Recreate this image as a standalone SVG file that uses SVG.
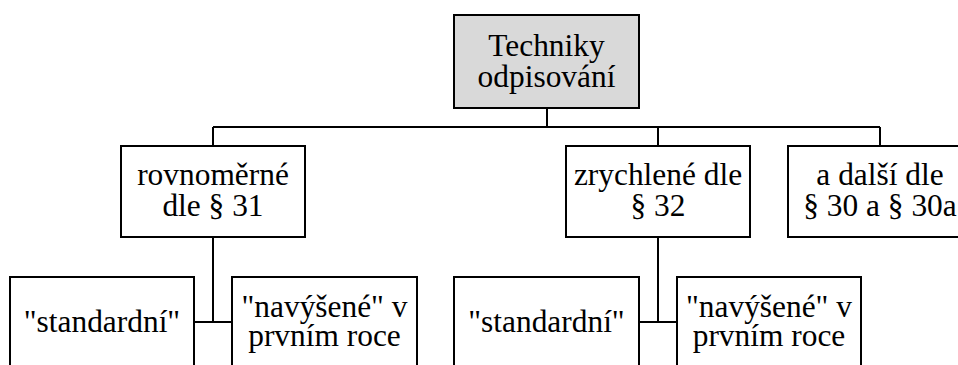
<svg xmlns="http://www.w3.org/2000/svg" width="958" height="365" viewBox="0 0 958 365">
<style>
.box{fill:#ffffff;stroke:#000000;stroke-width:2}
.root{fill:#d9d9d9;stroke:#000000;stroke-width:2}
.t{font-family:"Liberation Serif","Times New Roman",Tinos,serif;font-size:31.4px;fill:#000000;text-anchor:middle}
.c{fill:none;stroke:#000000;stroke-width:2}
</style>
<rect width="958" height="365" fill="#ffffff"/>
<g id="connectors">
<path class="c" d="M547,108 V127 M213,127 H880 M213,127 V146 M658,127 V146 M880,127 V146 M213,237 V322 M194,322 H232 M658,237 V322 M639,322 H677"/>
</g>
<g id="root">
<rect class="root" x="454" y="15" width="185" height="93"/>
<text class="t" x="546.5" y="56">Techniky</text>
<text class="t" x="546.5" y="86.5">odpisování</text>
</g>
<g id="rovnomerne">
<rect class="box" x="121" y="146" width="184" height="91"/>
<text class="t" x="213" y="185">rovnoměrné</text>
<text class="t" x="213" y="216">dle § 31</text>
</g>
<g id="zrychlene">
<rect class="box" x="566" y="146" width="184" height="91"/>
<text class="t" x="658" y="185">zrychlené dle</text>
<text class="t" x="658" y="216">§ 32</text>
</g>
<g id="dalsi">
<rect class="box" x="788" y="146" width="184" height="91"/>
<text class="t" x="880" y="185">a další dle</text>
<text class="t" x="880" y="216">§ 30 a § 30a</text>
</g>
<g id="standardni-1">
<rect class="box" x="10" y="277" width="184" height="91"/>
<text class="t" x="102" y="331.5">"standardní"</text>
</g>
<g id="navysene-1">
<rect class="box" x="232" y="277" width="185" height="91"/>
<text class="t" x="324.5" y="316.5">"navýšené" v</text>
<text class="t" x="324.5" y="346">prvním roce</text>
</g>
<g id="standardni-2">
<rect class="box" x="454" y="277" width="185" height="91"/>
<text class="t" x="546.5" y="331.5">"standardní"</text>
</g>
<g id="navysene-2">
<rect class="box" x="677" y="277" width="184" height="91"/>
<text class="t" x="769" y="316.5">"navýšené" v</text>
<text class="t" x="769" y="346">prvním roce</text>
</g>
</svg>
